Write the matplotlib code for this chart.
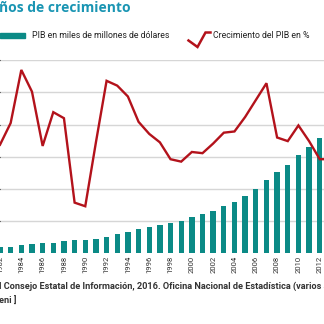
import matplotlib
matplotlib.use("Agg")
import matplotlib.pyplot as plt
from matplotlib.lines import Line2D
from matplotlib.patches import Rectangle

# Data
years = list(range(1982, 2014))
gdp_billion_usd = [373, 410, 497, 578, 621, 658, 745, 807, 820, 907,
                   1031, 1180, 1342, 1491, 1652, 1758, 1882, 2025, 2236, 2422,
                   2646, 2938, 3186, 3540, 4012, 4553, 5031, 5503, 6087, 6621,
                   7180, 7740]
gdp_growth_pct = [9.0, 10.8, 15.2, 13.4, 8.9, 11.7, 11.2, 4.2, 3.9, 9.2,
                  14.3, 13.9, 13.0, 10.9, 9.9, 9.2, 7.8, 7.6, 8.4, 8.3,
                  9.1, 10.0, 10.1, 11.3, 12.7, 14.1, 9.6, 9.3, 10.6, 9.3,
                  7.8, 7.8]
tick_years = list(range(1982, 2013, 2))

title_text = "ños de crecimiento"
legend_bar_text = "PIB en miles de millones de dólares"
legend_line_text = "Crecimiento del PIB en %"
source_line1 = "l Consejo Estatal de Información, 2016. Oficina Nacional de Estadística (varios años)"
source_line2 = "eni ]"

TEAL = "#0b8a86"
TITLE_BLUE = "#1a95b3"
RED = "#b3121b"
GRID = "#d6d6d6"
TEXT = "#222222"

narrow = ["Liberation Sans Narrow", "Roboto", "DejaVu Sans"]

W = H = 324
fig = plt.figure(figsize=(3.24, 3.24), dpi=100)
fig.patch.set_facecolor("white")


def fx(x):
    return x / W


def fy(y):
    return 1 - y / H


# Plot area
top_px, base_px = 60.3, 253.3
ax = fig.add_axes([0, fy(base_px), 1, (base_px - top_px) / H])
ax.set_xlim(1982.15, 2012.4)
ax.set_ylim(0, 12000)
ax.set_yticks(range(2000, 12001, 2000))
ax.yaxis.grid(True, color=GRID, lw=1.0)
ax.set_axisbelow(True)
ax.bar(years, gdp_billion_usd, width=0.5, color=TEAL, zorder=2)
for s in ax.spines.values():
    s.set_visible(False)
ax.tick_params(axis="y", left=False, labelleft=False)
ax.set_xticks(tick_years)
ax.set_xticklabels([str(y) for y in tick_years], rotation=90,
                   fontsize=5.5, color="#333333", family=narrow)
ax.tick_params(axis="x", length=0, pad=1.5)

ax2 = ax.twinx()
ax2.set_ylim(0, 16)
ax2.plot(years, gdp_growth_pct, color=RED, lw=1.7, zorder=3,
         solid_joinstyle="miter")
ax2.set_xlim(ax.get_xlim())
ax2.axis("off")

# Title
fig.text(fx(-1), fy(12), title_text, color=TITLE_BLUE, fontsize=10,
         fontweight="bold", family=["Open Sans", "DejaVu Sans"], va="baseline")

# Legend
fig.patches.append(Rectangle((fx(0), fy(37.5)), fx(25), 5 / H,
                             transform=fig.transFigure, color=TEAL))
fig.text(fx(32), fy(35), legend_bar_text, fontsize=6.3, color=TEXT,
         family=narrow, va="center")
fig.lines.append(Line2D([fx(188.5), fx(197.5), fx(205.5), fx(210.5)],
                        [fy(40.5), fy(47), fy(32.5), fy(32.5)],
                        transform=fig.transFigure, color=RED, lw=1.8,
                        solid_joinstyle="miter"))
fig.text(fx(213), fy(35), legend_line_text, fontsize=6.3, color=TEXT,
         family=narrow, va="center")

# Source note
fig.text(fx(-1), fy(286.5), source_line1, fontsize=6.6, color="#333333",
         fontweight="bold", family=narrow, va="center")
fig.text(fx(-1), fy(301), source_line2, fontsize=6.6, color="#333333",
         fontweight="bold", family=narrow, va="center")

fig.savefig("out.png", dpi=100)
